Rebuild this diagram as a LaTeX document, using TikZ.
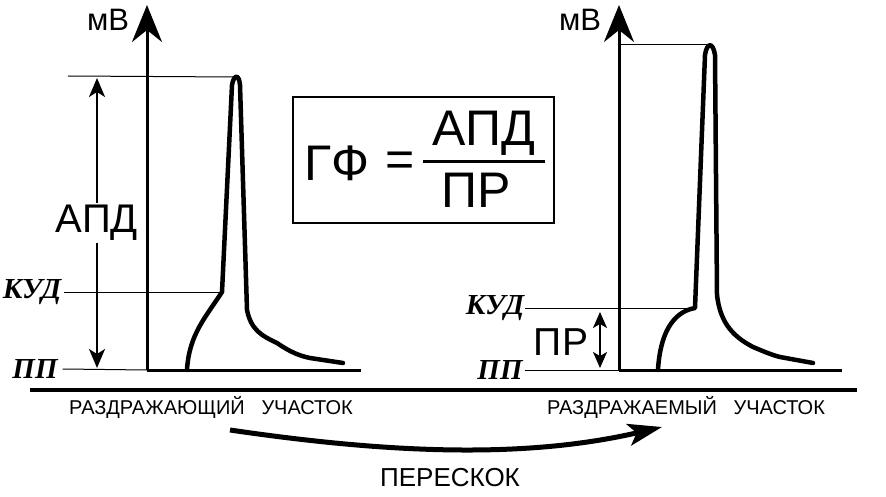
\documentclass[tikz,border=0pt]{standalone}
\usepackage{fontspec}
\setmainfont{Liberation Sans}
\newfontfamily\timesfont{Liberation Serif}
\usetikzlibrary{calc, arrows.meta, positioning}

\begin{document}
\begin{tikzpicture}[%
    x=1pt, y=-1pt,        % pixel grid, y downwards
    >={Stealth[length=19pt, width=16pt, inset=5pt]},
    every node/.style={inner sep=0pt, outer sep=0pt},
    axisline/.style={line width=3pt, -{Stealth[length=37pt, width=30pt, inset=12pt]}},
    baseline/.style={line width=3pt},
    groundline/.style={line width=4.5pt},
    curveline/.style={line width=4.5pt, line join=round, line cap=round},
    helpline/.style={line width=1pt},
    sizearrow/.style={line width=2pt, <->},
    levellabel/.style={font=\timesfont\bfseries\itshape\fontsize{29}{29}\selectfont},
    unitlabel/.style={font=\fontsize{31}{31}\selectfont},
    sitelabel/.style={font=\fontsize{20}{20}\selectfont},
    biglabel/.style={font=\fontsize{40}{40}\selectfont, fill=white, inner sep=2pt},
    formula/.style={font=\fontsize{50}{50}\selectfont},
    ]

\useasboundingbox (0,0) rectangle (886,497);

%==================================================
% Coordinates
%==================================================
\coordinate (O1) at (147,370);    % origin, left graph
\coordinate (O2) at (619,370);    % origin, right graph

\coordinate (T1) at (147,5);
\coordinate (T2) at (619,5);
\coordinate (E1) at (361,370);
\coordinate (E2) at (842,370);

\coordinate (top1) at (237,77);
\coordinate (top2) at (710,45);
\coordinate (kud1) at (222,292);
\coordinate (kud2) at (695,308);

\coordinate (G0) at (30,390);
\coordinate (G1) at (857,390);

%==================================================
% Labels
%==================================================
\node[unitlabel] (mv1) at (108,20) {мВ};
\node[unitlabel] (mv2) at (580,20) {мВ};

\node[levellabel] (kudl1) at (32,292) {КУД};
\node[levellabel] (ppl1)  at (35,369) {ПП};
\node[levellabel] (kudl2) at (495,308) {КУД};
\node[levellabel] (ppl2)  at (500,370) {ПП};

\node[sitelabel] (site1) at (211,407) {РАЗДРАЖАЮЩИЙ\ \ \ УЧАСТОК};
\node[sitelabel] (site2) at (686,407) {РАЗДРАЖАЕМЫЙ\ \ \ УЧАСТОК};
\node[unitlabel, font=\fontsize{26}{26}\selectfont] (jump) at (450,478) {ПЕРЕСКОК};

%==================================================
% Formula
%==================================================
\node[draw, line width=2.5pt, minimum width=261pt, minimum height=126pt]
    (fbox) at (423.5,160) {};
\node[formula] (gf)  at (337,163) {ГФ};
\node[formula] (eq)  at (400,164) {=};
\node[formula] (num) at (484,133) {АПД};
\node[formula] (den) at (476,190) {ПР};
\coordinate (barL) at (423,162);
\coordinate (barR) at (545,162);
\draw[line width=3pt] (barL) -- (barR);

%==================================================
% Axes
%==================================================
\draw[groundline] (G0) -- (G1);

\draw[axisline] (O1) -- (T1);
\draw[axisline] (O2) -- (T2);
\draw[baseline] (O1) -- (E1);
\draw[baseline] (O2) -- (E2);

% levels
\draw[helpline] (ppl1.east) ++(5,0) -- (O1);
\draw[helpline] (kudl1.east) ++(3,0) -- (kud1);
\draw[helpline] (68,76) coordinate (apdtop) -- (top1);
\draw[helpline] (ppl2.east) ++(2,0) -- (O2);
\draw[helpline] (kudl2.east) ++(1,0) -- (kud2);
\draw[helpline] (O2 |- top2) -- (top2);

%==================================================
% Action potentials
%==================================================
\draw[curveline] (187,370) .. controls (189,335) and (205,318) .. (kud1)
    -- (232,85) .. controls (234,74) and (239,74) .. (240,85)
    -- (247,310) .. controls (251,330) and (262,336) .. (277,343)
    .. controls (290,352) and (300,356) .. (310,358) -- (343,363);

\draw[curveline] (658,370) .. controls (660,335) and (672,312) .. (kud2)
    -- (705,55) .. controls (707,42) and (713,42) .. (715,55)
    -- (717,295) .. controls (720,320) and (730,335) .. (753,347)
    .. controls (765,352) and (772,355) .. (780,357) -- (813,363);

%==================================================
% Size arrows
%==================================================
\coordinate (apdA) at (97,78);
\coordinate (apdB) at (97,368);
\draw[sizearrow] (apdA) -- node[biglabel] (apd) {АПД} (apdB);

\coordinate (prA) at (600,312);
\coordinate (prB) at (600,368);
\draw[sizearrow, {Stealth[length=16pt, width=14pt, inset=4pt]}-{Stealth[length=16pt, width=14pt, inset=4pt]}] (prA) -- (prB);
\node[font=\fontsize{39}{39}\selectfont] (pr) at (561,342) {ПР};

%==================================================
% Jump arrow
%==================================================
\coordinate (J0) at (230,430);
\coordinate (J1) at (662,427);
\draw[line width=5pt, -{Stealth[length=34pt, width=22pt, inset=8pt]}]
    (J0) .. controls (380,452) and (520,460) .. (J1);

%==================================================
\end{tikzpicture}
\end{document}
